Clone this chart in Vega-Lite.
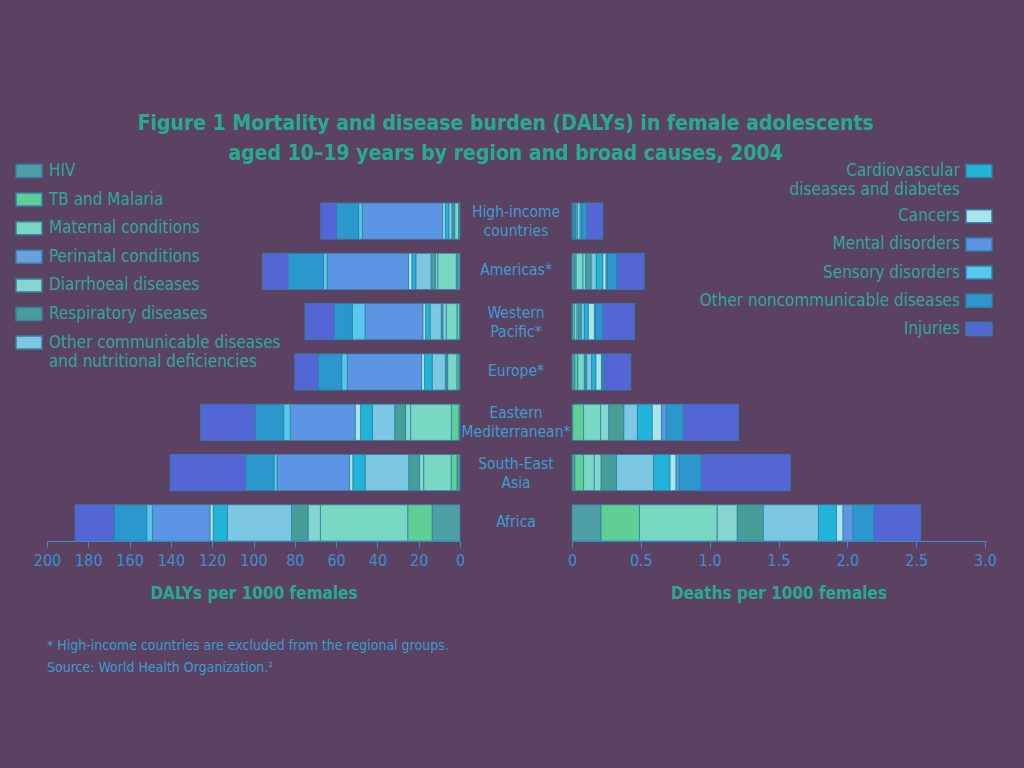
{
  "$schema": "https://vega.github.io/schema/vega-lite/v6.json",
  "background": "#5b4263",
  "padding": {"left": 15, "top": 113, "right": 29, "bottom": 95},
  "bounds": "flush",
  "spacing": 0,
  "title": {
    "text": ["Figure 1 Mortality and disease burden (DALYs) in female adolescents", "aged 10–19 years by region and broad causes, 2004"],
    "anchor": "middle",
    "fontSize": 21,
    "fontWeight": "bold",
    "color": "#27ab90",
    "lineHeight": 30,
    "offset": -7
  },
  "config": {
    "font": "Liberation Sans Narrow, DejaVu Sans Condensed, sans-serif",
    "view": {"stroke": null},
    "axis": {"grid": false, "labelFontSize": 16, "labelColor": "#3d8fd0", "labelOverlap": false, "labelFlush": false, "domainColor": "#3d8fd0", "tickColor": "#3d8fd0", "tickSize": 6, "labelPadding": 5, "titleFontSize": 17, "titleFontWeight": "bold", "titleColor": "#27ab90", "titlePadding": 17}
  },
  "datasets": {
    "causes": [
      {"order": 1, "cause": "HIV"},
      {"order": 2, "cause": "TB and Malaria"},
      {"order": 3, "cause": "Maternal conditions"},
      {"order": 4, "cause": "Perinatal conditions"},
      {"order": 5, "cause": "Diarrhoeal diseases"},
      {"order": 6, "cause": "Respiratory diseases"},
      {"order": 7, "cause": "Other communicable diseases and nutritional deficiencies"},
      {"order": 8, "cause": "Cardiovascular diseases and diabetes"},
      {"order": 9, "cause": "Cancers"},
      {"order": 10, "cause": "Mental disorders"},
      {"order": 11, "cause": "Sensory disorders"},
      {"order": 12, "cause": "Other noncommunicable diseases"},
      {"order": 13, "cause": "Injuries"}
    ],
    "labels": [
      {"region": "High-income countries", "label": "High-income\ncountries"},
      {"region": "Americas", "label": "Americas*"},
      {"region": "Western Pacific", "label": "Western\nPacific*"},
      {"region": "Europe", "label": "Europe*"},
      {"region": "Eastern Mediterranean", "label": "Eastern\nMediterranean*"},
      {"region": "South-East Asia", "label": "South-East\nAsia"},
      {"region": "Africa", "label": "Africa"}
    ],
    "burden": [
      {"region": "High-income countries", "order": 1, "dalys": 0.4, "deaths": 0.004},
      {"region": "High-income countries", "order": 2, "dalys": 0.3, "deaths": 0.003},
      {"region": "High-income countries", "order": 3, "dalys": 1.9, "deaths": 0.006},
      {"region": "High-income countries", "order": 4, "dalys": 0, "deaths": 0},
      {"region": "High-income countries", "order": 5, "dalys": 0.2, "deaths": 0.002},
      {"region": "High-income countries", "order": 6, "dalys": 1.1, "deaths": 0.006},
      {"region": "High-income countries", "order": 7, "dalys": 1.6, "deaths": 0.006},
      {"region": "High-income countries", "order": 8, "dalys": 1.7, "deaths": 0.015},
      {"region": "High-income countries", "order": 9, "dalys": 1.2, "deaths": 0.017},
      {"region": "High-income countries", "order": 10, "dalys": 38.9, "deaths": 0.012},
      {"region": "High-income countries", "order": 11, "dalys": 1.8, "deaths": 0},
      {"region": "High-income countries", "order": 12, "dalys": 10.8, "deaths": 0.035},
      {"region": "High-income countries", "order": 13, "dalys": 7.6, "deaths": 0.118},
      {"region": "Americas", "order": 1, "dalys": 1.5, "deaths": 0.020},
      {"region": "Americas", "order": 2, "dalys": 0.3, "deaths": 0.010},
      {"region": "Americas", "order": 3, "dalys": 9.0, "deaths": 0.050},
      {"region": "Americas", "order": 4, "dalys": 0, "deaths": 0},
      {"region": "Americas", "order": 5, "dalys": 1.1, "deaths": 0.020},
      {"region": "Americas", "order": 6, "dalys": 2.1, "deaths": 0.039},
      {"region": "Americas", "order": 7, "dalys": 7.4, "deaths": 0.038},
      {"region": "Americas", "order": 8, "dalys": 1.9, "deaths": 0.047},
      {"region": "Americas", "order": 9, "dalys": 1.7, "deaths": 0.024},
      {"region": "Americas", "order": 10, "dalys": 39.3, "deaths": 0.010},
      {"region": "Americas", "order": 11, "dalys": 1.9, "deaths": 0},
      {"region": "Americas", "order": 12, "dalys": 17.1, "deaths": 0.066},
      {"region": "Americas", "order": 13, "dalys": 12.4, "deaths": 0.200},
      {"region": "Western Pacific", "order": 1, "dalys": 0.2, "deaths": 0.004},
      {"region": "Western Pacific", "order": 2, "dalys": 1.3, "deaths": 0.013},
      {"region": "Western Pacific", "order": 3, "dalys": 5.2, "deaths": 0.020},
      {"region": "Western Pacific", "order": 4, "dalys": 0, "deaths": 0},
      {"region": "Western Pacific", "order": 5, "dalys": 1.6, "deaths": 0.010},
      {"region": "Western Pacific", "order": 6, "dalys": 0.8, "deaths": 0.021},
      {"region": "Western Pacific", "order": 7, "dalys": 5.4, "deaths": 0.022},
      {"region": "Western Pacific", "order": 8, "dalys": 2.2, "deaths": 0.029},
      {"region": "Western Pacific", "order": 9, "dalys": 1.3, "deaths": 0.044},
      {"region": "Western Pacific", "order": 10, "dalys": 28.0, "deaths": 0.008},
      {"region": "Western Pacific", "order": 11, "dalys": 6.1, "deaths": 0},
      {"region": "Western Pacific", "order": 12, "dalys": 8.7, "deaths": 0.050},
      {"region": "Western Pacific", "order": 13, "dalys": 14.3, "deaths": 0.233},
      {"region": "Europe", "order": 1, "dalys": 0.5, "deaths": 0.020},
      {"region": "Europe", "order": 2, "dalys": 1.0, "deaths": 0.022},
      {"region": "Europe", "order": 3, "dalys": 4.5, "deaths": 0.048},
      {"region": "Europe", "order": 4, "dalys": 0, "deaths": 0},
      {"region": "Europe", "order": 5, "dalys": 0.3, "deaths": 0.005},
      {"region": "Europe", "order": 6, "dalys": 0.8, "deaths": 0.012},
      {"region": "Europe", "order": 7, "dalys": 6.4, "deaths": 0.036},
      {"region": "Europe", "order": 8, "dalys": 3.7, "deaths": 0.031},
      {"region": "Europe", "order": 9, "dalys": 1.4, "deaths": 0.040},
      {"region": "Europe", "order": 10, "dalys": 36.0, "deaths": 0.008},
      {"region": "Europe", "order": 11, "dalys": 2.7, "deaths": 0},
      {"region": "Europe", "order": 12, "dalys": 11.4, "deaths": 0.012},
      {"region": "Europe", "order": 13, "dalys": 11.3, "deaths": 0.193},
      {"region": "Eastern Mediterranean", "order": 1, "dalys": 0.5, "deaths": 0.005},
      {"region": "Eastern Mediterranean", "order": 2, "dalys": 3.7, "deaths": 0.079},
      {"region": "Eastern Mediterranean", "order": 3, "dalys": 19.7, "deaths": 0.124},
      {"region": "Eastern Mediterranean", "order": 4, "dalys": 0, "deaths": 0},
      {"region": "Eastern Mediterranean", "order": 5, "dalys": 2.5, "deaths": 0.060},
      {"region": "Eastern Mediterranean", "order": 6, "dalys": 5.2, "deaths": 0.109},
      {"region": "Eastern Mediterranean", "order": 7, "dalys": 10.9, "deaths": 0.098},
      {"region": "Eastern Mediterranean", "order": 8, "dalys": 5.7, "deaths": 0.108},
      {"region": "Eastern Mediterranean", "order": 9, "dalys": 2.6, "deaths": 0.067},
      {"region": "Eastern Mediterranean", "order": 10, "dalys": 31.4, "deaths": 0.036},
      {"region": "Eastern Mediterranean", "order": 11, "dalys": 3.2, "deaths": 0},
      {"region": "Eastern Mediterranean", "order": 12, "dalys": 13.7, "deaths": 0.122},
      {"region": "Eastern Mediterranean", "order": 13, "dalys": 26.5, "deaths": 0.402},
      {"region": "South-East Asia", "order": 1, "dalys": 1.4, "deaths": 0.020},
      {"region": "South-East Asia", "order": 2, "dalys": 2.9, "deaths": 0.064},
      {"region": "South-East Asia", "order": 3, "dalys": 13.3, "deaths": 0.078},
      {"region": "South-East Asia", "order": 4, "dalys": 0, "deaths": 0},
      {"region": "South-East Asia", "order": 5, "dalys": 2.0, "deaths": 0.050},
      {"region": "South-East Asia", "order": 6, "dalys": 5.2, "deaths": 0.112},
      {"region": "South-East Asia", "order": 7, "dalys": 21.2, "deaths": 0.269},
      {"region": "South-East Asia", "order": 8, "dalys": 5.9, "deaths": 0.119},
      {"region": "South-East Asia", "order": 9, "dalys": 1.6, "deaths": 0.044},
      {"region": "South-East Asia", "order": 10, "dalys": 35.0, "deaths": 0.024},
      {"region": "South-East Asia", "order": 11, "dalys": 1.6, "deaths": 0},
      {"region": "South-East Asia", "order": 12, "dalys": 13.7, "deaths": 0.158},
      {"region": "South-East Asia", "order": 13, "dalys": 36.6, "deaths": 0.648},
      {"region": "Africa", "order": 1, "dalys": 13.5, "deaths": 0.211},
      {"region": "Africa", "order": 2, "dalys": 11.8, "deaths": 0.279},
      {"region": "Africa", "order": 3, "dalys": 42.3, "deaths": 0.565},
      {"region": "Africa", "order": 4, "dalys": 0, "deaths": 0},
      {"region": "Africa", "order": 5, "dalys": 6.0, "deaths": 0.146},
      {"region": "Africa", "order": 6, "dalys": 8.0, "deaths": 0.189},
      {"region": "Africa", "order": 7, "dalys": 31.1, "deaths": 0.400},
      {"region": "Africa", "order": 8, "dalys": 6.8, "deaths": 0.131},
      {"region": "Africa", "order": 9, "dalys": 1.6, "deaths": 0.048},
      {"region": "Africa", "order": 10, "dalys": 27.9, "deaths": 0.073},
      {"region": "Africa", "order": 11, "dalys": 2.7, "deaths": 0},
      {"region": "Africa", "order": 12, "dalys": 15.7, "deaths": 0.151},
      {"region": "Africa", "order": 13, "dalys": 19.0, "deaths": 0.340}
    ]
  },
  "resolve": {"scale": {"color": "shared", "fill": "shared"}, "legend": {"color": "shared", "fill": "shared"}},
  "hconcat": [
    {
      "width": 413,
      "height": 338,
      "data": {"name": "burden"},
      "transform": [
        {"filter": "datum.dalys > 0"},
        {"lookup": "order", "from": {"data": {"name": "causes"}, "key": "order", "fields": ["cause"]}},
        {"stack": "dalys", "groupby": ["region"], "sort": [{"field": "order", "order": "ascending"}], "as": ["d0", "d1"]}
      ],
      "title": {
        "text": ["* High-income countries are excluded from the regional groups.", "Source: World Health Organization.²"],
        "orient": "bottom",
        "anchor": "start",
        "frame": "group",
        "fontSize": 14,
        "fontWeight": "normal",
        "color": "#3a9ccf",
        "lineHeight": 22,
        "offset": 38
      },
      "encoding": {
        "y": {"field": "region", "type": "nominal", "sort": ["High-income countries", "Americas", "Western Pacific", "Europe", "Eastern Mediterranean", "South-East Asia", "Africa"], "axis": null, "scale": {"type": "band", "paddingInner": 0.28, "paddingOuter": 0}},
        "x": {"field": "d0", "type": "quantitative", "scale": {"domain": [0, 200], "reverse": true, "nice": false}, "axis": {"values": [0, 20, 40, 60, 80, 100, 120, 140, 160, 180, 200], "title": "DALYs per 1000 females"}},
        "x2": {"field": "d1"}
      },
      "layer": [
        {
          "transform": [{"filter": "datum.order <= 7"}],
          "mark": {"type": "bar", "stroke": "#3182a5", "strokeWidth": 1, "strokeOpacity": 0.8},
          "encoding": {
            "color": {"field": "cause", "type": "nominal", "scale": {"domain": ["HIV", "TB and Malaria", "Maternal conditions", "Perinatal conditions", "Diarrhoeal diseases", "Respiratory diseases", "Other communicable diseases and nutritional deficiencies"], "range": ["#4f9fa6", "#5fcf96", "#78d8c4", "#6aa0dc", "#84d6cf", "#479e98", "#7cc8e2"]},
              "legend": {"orient": "none", "legendX": -32, "legendY": -46, "title": null, "labelFontSize": 17, "labelColor": "#2fa898", "labelLimit": 400, "labelOffset": 6, "symbolType": "M-1,-0.5H1V0.5H-1Z", "symbolSize": 676, "symbolStrokeColor": "#3a7fa8", "symbolStrokeWidth": 1.5, "rowPadding": 4.6,
                "labelExpr": "datum.label == 'Other communicable diseases and nutritional deficiencies' ? ['Other communicable diseases', 'and nutritional deficiencies'] : datum.label"}}
          }
        },
        {
          "transform": [{"filter": "datum.order > 7"}],
          "mark": {"type": "bar", "stroke": "#3182a5", "strokeWidth": 1, "strokeOpacity": 0.8},
          "encoding": {
            "fill": {"field": "cause", "type": "nominal", "scale": {"domain": ["Cardiovascular diseases and diabetes", "Cancers", "Mental disorders", "Sensory disorders", "Other noncommunicable diseases", "Injuries"], "range": ["#22b4d8", "#a9e6ec", "#5b95e4", "#57c9ec", "#2b97cc", "#5466d6"]},
              "legend": {"orient": "none", "legendX": 918, "legendY": -46, "title": null, "labelFontSize": 17, "labelColor": "#2fa898", "labelLimit": 400, "labelAlign": "right", "labelOffset": -33, "symbolType": "M-1,-0.5H1V0.5H-1Z", "symbolSize": 676, "symbolStrokeColor": "#3a7fa8", "symbolStrokeWidth": 1.5, "rowPadding": 4.2,
                "labelExpr": "datum.label == 'Cardiovascular diseases and diabetes' ? ['Cardiovascular', 'diseases and diabetes'] : datum.label"}}
          }
        }
      ]
    },
    {
      "width": 112,
      "height": 338,
      "data": {"name": "labels"},
      "encoding": {
        "y": {"field": "region", "type": "nominal", "sort": ["High-income countries", "Americas", "Western Pacific", "Europe", "Eastern Mediterranean", "South-East Asia", "Africa"], "axis": null, "scale": {"type": "band", "paddingInner": 0.28, "paddingOuter": 0}},
        "text": {"field": "label"}
      },
      "layer": [
        {
          "transform": [{"filter": "indexof(datum.label, '\\n') < 0"}],
          "mark": {"type": "text", "lineBreak": "\n", "fontSize": 15.5, "color": "#3d9ccf", "align": "center", "baseline": "middle", "lineHeight": 19, "dy": -1}
        },
        {
          "transform": [{"filter": "indexof(datum.label, '\\n') >= 0"}],
          "mark": {"type": "text", "lineBreak": "\n", "fontSize": 15.5, "color": "#3d9ccf", "align": "center", "baseline": "middle", "lineHeight": 19, "dy": -9}
        }
      ]
    },
    {
      "width": 413,
      "height": 338,
      "data": {"name": "burden"},
      "transform": [
        {"filter": "datum.deaths > 0"},
        {"lookup": "order", "from": {"data": {"name": "causes"}, "key": "order", "fields": ["cause"]}},
        {"stack": "deaths", "groupby": ["region"], "sort": [{"field": "order", "order": "ascending"}], "as": ["e0", "e1"]}
      ],
      "encoding": {
        "y": {"field": "region", "type": "nominal", "sort": ["High-income countries", "Americas", "Western Pacific", "Europe", "Eastern Mediterranean", "South-East Asia", "Africa"], "axis": null, "scale": {"type": "band", "paddingInner": 0.28, "paddingOuter": 0}},
        "x": {"field": "e0", "type": "quantitative", "scale": {"domain": [0, 3], "nice": false}, "axis": {"values": [0, 0.5, 1, 1.5, 2, 2.5, 3], "labelExpr": "datum.value == 0 ? '0' : format(datum.value, '.1f')", "title": "Deaths per 1000 females"}},
        "x2": {"field": "e1"}
      },
      "layer": [
        {
          "transform": [{"filter": "datum.order <= 7"}],
          "mark": {"type": "bar", "stroke": "#3182a5", "strokeWidth": 1, "strokeOpacity": 0.8},
          "encoding": {"color": {"field": "cause", "type": "nominal"}}
        },
        {
          "transform": [{"filter": "datum.order > 7"}],
          "mark": {"type": "bar", "stroke": "#3182a5", "strokeWidth": 1, "strokeOpacity": 0.8},
          "encoding": {"fill": {"field": "cause", "type": "nominal"}}
        }
      ]
    }
  ]
}
